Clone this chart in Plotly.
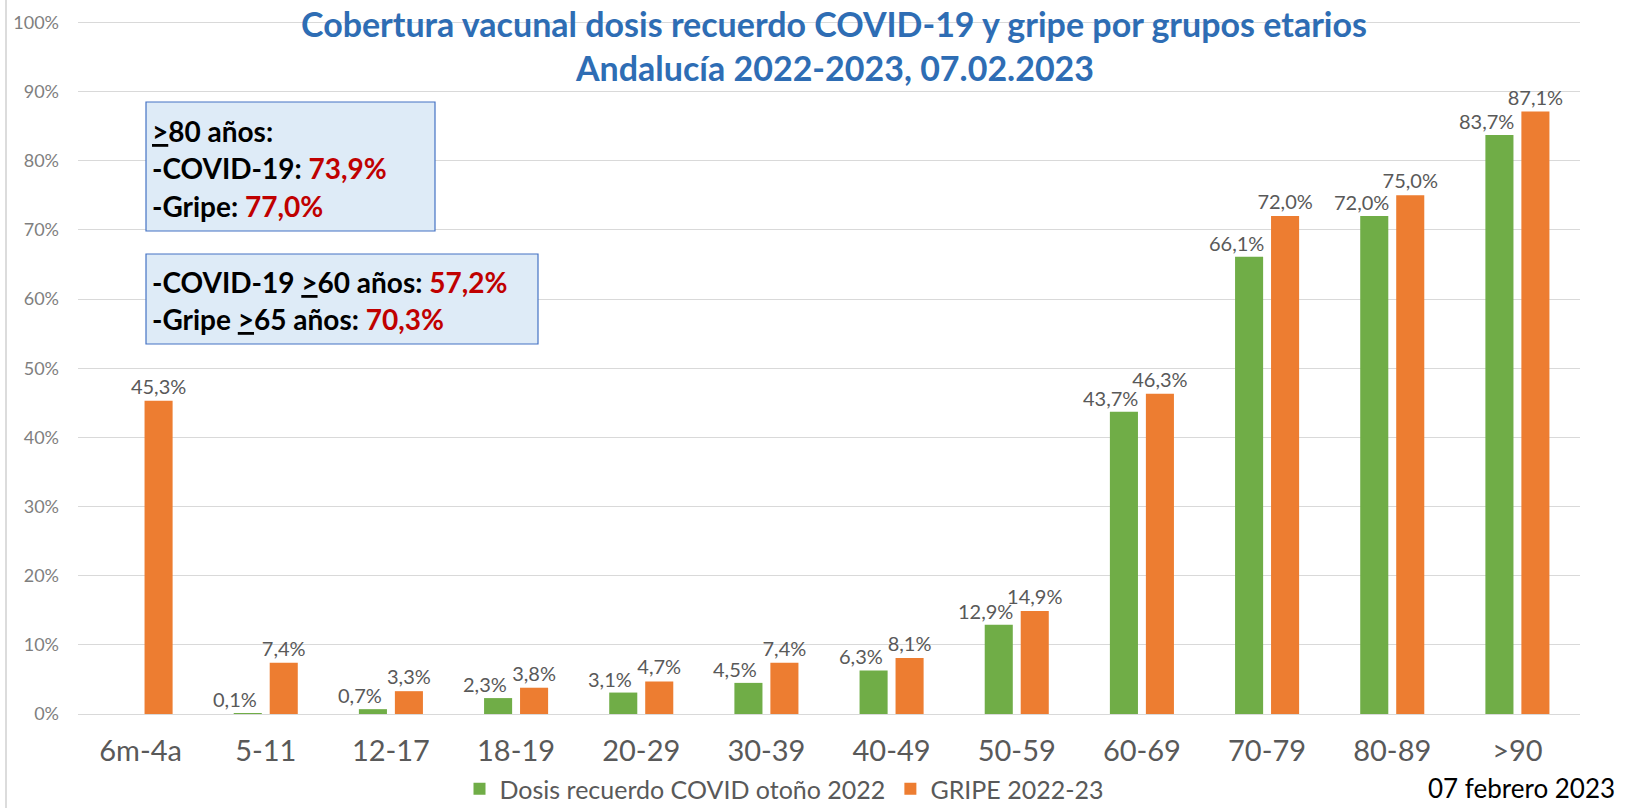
import plotly.graph_objects as go

# Coverage by age group, Andalucía 2022-2023 (%)
grupos = ["6m-4a", "5-11", "12-17", "18-19", "20-29", "30-39",
          "40-49", "50-59", "60-69", "70-79", "80-89", ">90"]
covid = [None, 0.1, 0.7, 2.3, 3.1, 4.5, 6.3, 12.9, 43.7, 66.1, 72.0, 83.7]
gripe = [45.3, 7.4, 3.3, 3.8, 4.7, 7.4, 8.1, 14.9, 46.3, 72.0, 75.0, 87.1]
y_ticks = list(range(0, 101, 10))
y_labels = [f"{v}%" for v in y_ticks]

GREEN = "#70AD47"
ORANGE = "#ED7D31"
GREY_TXT = "#595959"
GRID = "#D9D9D9"
TITLE_BLUE = "#2E6DB4"
RED = "#C00000"
BOX_FILL = "#DEEBF7"
BOX_LINE = "#4472C4"

W, H = 1637, 808
L, R, T, B = 78, 57, 21, 94
PW, PH = W - L - R, H - T - B


def px_x(p):
    return (p - L) / PW


def px_y(p):
    return (H - B - p) / PH


fig = go.Figure()
fig.add_trace(go.Bar(
    x=grupos, y=covid, name="Dosis recuerdo COVID otoño 2022",
    marker_color=GREEN, marker_line_width=0,
))
fig.add_trace(go.Bar(
    x=grupos, y=gripe, name="GRIPE 2022-23",
    marker_color=ORANGE, marker_line_width=0,
    text=gripe, texttemplate="%{y:.1f}%", textposition="outside",
    textfont=dict(size=20, color=GREY_TXT), constraintext="none",
    cliponaxis=False,
))

# green labels sit a little to the left of their bars, like the original
for g, v in zip(grupos, covid):
    if v is None:
        continue
    fig.add_annotation(
        x=g, y=v, text=f"{v:.1f}%".replace(".", ","), showarrow=False,
        xshift=-31, yshift=0, yanchor="bottom",
        font=dict(size=20, color=GREY_TXT),
    )

# title, two lines
fig.add_annotation(x=px_x(834), y=px_y(23), xref="paper", yref="paper",
                   xanchor="center", yanchor="middle",
                   text="<b>Cobertura vacunal dosis recuerdo COVID-19 y gripe por grupos etarios</b>",
                   showarrow=False, font=dict(size=34, color=TITLE_BLUE))
fig.add_annotation(x=px_x(834), y=px_y(68), xref="paper", yref="paper",
                   xanchor="center", yanchor="middle",
                   text="<b>Andalucía 2022-2023, 07.02.2023</b>",
                   showarrow=False, font=dict(size=34, color=TITLE_BLUE))

# info boxes
fig.add_shape(type="rect", xref="paper", yref="paper",
              x0=px_x(146), x1=px_x(435), y0=px_y(231), y1=px_y(102),
              fillcolor=BOX_FILL, line=dict(color=BOX_LINE, width=1.2))
fig.add_shape(type="rect", xref="paper", yref="paper",
              x0=px_x(146), x1=px_x(538), y0=px_y(344), y1=px_y(254),
              fillcolor=BOX_FILL, line=dict(color=BOX_LINE, width=1.2))

box_lines = [
    (131, "<b><u>></u>80 años:</b>"),
    (168, f"<b>-COVID-19: <span style='color:{RED}'>73,9%</span></b>"),
    (206, f"<b>-Gripe: <span style='color:{RED}'>77,0%</span></b>"),
    (282, f"<b>-COVID-19 <u>></u>60 años: <span style='color:{RED}'>57,2%</span></b>"),
    (319, f"<b>-Gripe <u>></u>65 años: <span style='color:{RED}'>70,3%</span></b>"),
]
for yp, txt in box_lines:
    fig.add_annotation(x=px_x(150), y=px_y(yp), xref="paper", yref="paper",
                       text=txt, showarrow=False, xanchor="left", yanchor="middle",
                       font=dict(size=28, color="black"))

# date note, bottom right
fig.add_annotation(x=px_x(1426), y=px_y(806), xref="paper", yref="paper",
                   text="07 febrero 2023", showarrow=False,
                   xanchor="left", yanchor="bottom", font=dict(size=26, color="black"))

# slide edge on the left
fig.add_shape(type="line", xref="paper", yref="paper",
              x0=px_x(6), x1=px_x(6), y0=px_y(H), y1=px_y(0),
              line=dict(color="#D0D0D0", width=1.5))

fig.update_layout(
    width=W, height=H,
    margin=dict(l=L, r=R, t=T, b=B, autoexpand=False),
    paper_bgcolor="white", plot_bgcolor="white",
    font=dict(family="Lato, sans-serif", color=GREY_TXT),
    separators=",.",
    barmode="group", bargap=0.425, bargroupgap=0.22,
    showlegend=True,
    legend=dict(orientation="h", xref="container", yref="container",
                x=784 / W, y=(H - 789) / H, xanchor="center", yanchor="middle",
                font=dict(size=25, color=GREY_TXT), bgcolor="rgba(0,0,0,0)"),
    xaxis=dict(range=[-0.5, 11.5], showgrid=False, showline=False,
               ticks="outside", ticklen=11, tickcolor="rgba(0,0,0,0)",
               tickfont=dict(size=29, color=GREY_TXT)),
    yaxis=dict(range=[0, 100.2], tickmode="array", tickvals=y_ticks, ticktext=y_labels,
               gridcolor=GRID, gridwidth=1, zeroline=True, zerolinecolor=GRID,
               zerolinewidth=1, showline=False,
               tickfont=dict(size=18, color="#7F7F7F"), ticklabelstandoff=18),
)

fig.write_html("out.html", config={"displayModeBar": False},
               post_script="document.body.style.margin='0';")
